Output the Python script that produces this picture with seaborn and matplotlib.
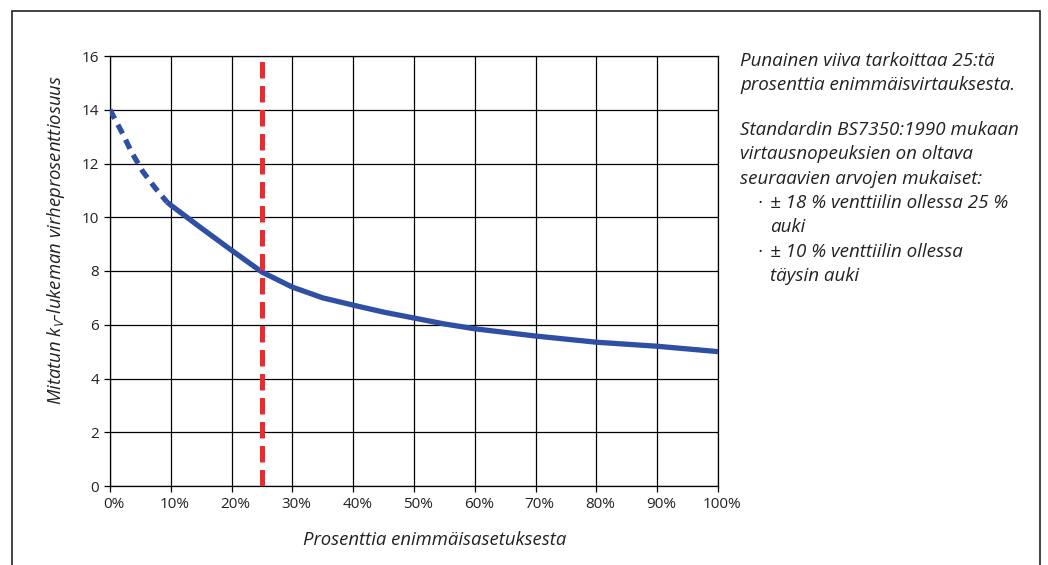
import numpy as np
import pandas as pd
import matplotlib
matplotlib.use('Agg')
import matplotlib.pyplot as plt
import matplotlib.transforms as mtransforms
import seaborn as sns
from matplotlib.patches import Rectangle

# Data
dash_pct = [0, 2.1, 3.6, 5.4, 7.4, 9.4]
dash_err = [14.0, 13.1, 12.4, 11.7, 11.1, 10.56]
solid_pct = [9.4, 10, 15, 20, 25, 30, 35, 40, 45, 50, 55, 60, 70, 80, 90, 100]
solid_err = [10.56, 10.45, 9.6, 8.77, 7.96, 7.4, 7.0, 6.73, 6.47, 6.25, 6.03, 5.85, 5.58, 5.35, 5.2, 5.0]
red_line_pct = 25
x_ticks = list(range(0, 101, 10))
x_tick_labels = [f'{t}%' for t in x_ticks]
y_ticks = list(range(0, 17, 2))

note_lines = [
    'Punainen viiva tarkoittaa 25:tä',
    'prosenttia enimmäisvirtauksesta.',
    '',
    'Standardin BS7350:1990 mukaan',
    'virtausnopeuksien on oltava',
    'seuraavien arvojen mukaiset:',
]
bullets = [
    ['± 18 % venttiilin ollessa 25 %', 'auki'],
    ['± 10 % venttiilin ollessa', 'täysin auki'],
]

sns.set_theme(style='white')
plt.rcParams['font.family'] = ['Open Sans', 'DejaVu Sans']
plt.rcParams['mathtext.fontset'] = 'custom'
plt.rcParams['mathtext.rm'] = 'Open Sans'
plt.rcParams['mathtext.it'] = 'Open Sans:italic'

blue = '#2E4FA3'
red = '#EC2A30'
txt = '#222222'
note_size = 13.5
label_size = 13.3

fig = plt.figure(figsize=(10.48, 5.65), dpi=100)
fig.patch.set_facecolor('white')
ax = fig.add_axes([110 / 1048, 1 - 486 / 565, 608 / 1048, 430 / 565])

# outer frame
fig.patches.append(Rectangle((12 / 1048, -0.05), 1028 / 1048, 1.05 - 11 / 565,
                             transform=fig.transFigure, fill=False,
                             edgecolor=txt, linewidth=1.2))

dash_df = pd.DataFrame({'pct': dash_pct, 'err': dash_err})
solid_df = pd.DataFrame({'pct': solid_pct, 'err': solid_err})

sns.lineplot(data=dash_df, x='pct', y='err', ax=ax, color=blue, linewidth=3.8,
             linestyle=(0, (1.9, 1.3)), zorder=4)
sns.lineplot(data=solid_df, x='pct', y='err', ax=ax, color=blue, linewidth=3.8,
             zorder=4, solid_capstyle='butt')
ax.axvline(red_line_pct, color=red, linewidth=3.6, linestyle=(0, (3.3, 1.5)), zorder=5)

ax.set_xlim(0, 100)
ax.set_ylim(0, 16)
ax.set_xticks(x_ticks)
ax.set_xticklabels(x_tick_labels)
ax.set_yticks(y_ticks)
ax.grid(True, color='black', linewidth=0.9)
ax.set_axisbelow(True)
for s in ax.spines.values():
    s.set_color('black')
    s.set_linewidth(0.9)
ax.tick_params(axis='both', which='major', direction='out', length=4, width=0.9,
               color='black', labelsize=11, labelcolor=txt, pad=4,
               bottom=True, left=True)
# x tick labels sit a few pixels right of their ticks in the reference
shift = mtransforms.ScaledTranslation(4 / 100, 0, fig.dpi_scale_trans)
for lab in ax.get_xticklabels():
    lab.set_transform(lab.get_transform() + shift)
ax.set_xlabel('')
ax.set_ylabel('')

fig.text(56 / 1048, 1 - 240 / 565, r'Mitatun k$_{V}$-lukeman virheprosenttiosuus',
         rotation=90, ha='center', va='center', fontsize=label_size, style='italic',
         color=txt)
fig.text(435 / 1048, 1 - 540 / 565, 'Prosenttia enimmäisasetuksesta',
         ha='center', va='center', fontsize=label_size, style='italic', color=txt)

# note text on the right
y = 66
step = 24.3
for line in note_lines:
    if line:
        fig.text(740 / 1048, 1 - y / 565, line, ha='left', va='baseline',
                 fontsize=note_size, style='italic', color=txt)
        y += step
    else:
        y += 20.5
for b in bullets:
    fig.text(757 / 1048, 1 - y / 565, '·', ha='left', va='baseline',
             fontsize=note_size, style='italic', color=txt)
    for line in b:
        fig.text(770 / 1048, 1 - y / 565, line, ha='left', va='baseline',
                 fontsize=note_size, style='italic', color=txt)
        y += step

fig.savefig('out.png', dpi=100, facecolor='white')
